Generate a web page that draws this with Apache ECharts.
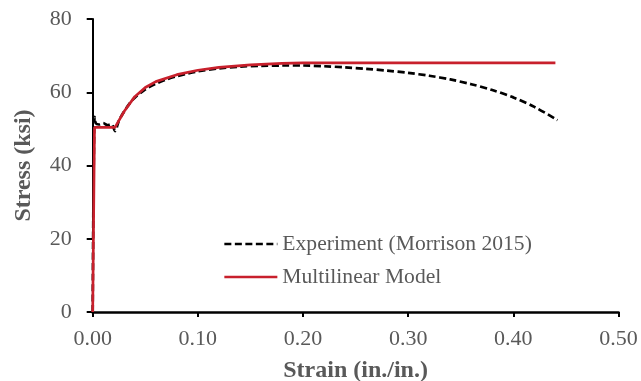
<!DOCTYPE html>
<html>
<head>
<meta charset="utf-8">
<script src="https://cdn.jsdelivr.net/npm/echarts@6/dist/echarts.min.js"></script>
<style>html,body{margin:0;padding:0;background:#fff}#c{width:641px;height:381px}</style>
</head>
<body>
<div id="c"></div>
<script>
// Experiment (Morrison 2015): [strain, stress]
var expStrain = [0, 0.0018, 0.003, 0.006, 0.010, 0.014, 0.018, 0.0212, 0.025, 0.030, 0.035, 0.040, 0.050, 0.060, 0.070, 0.080, 0.090, 0.100, 0.120, 0.140, 0.160, 0.180, 0.200, 0.220, 0.240, 0.260, 0.280, 0.300, 0.320, 0.340, 0.360, 0.380, 0.400, 0.420, 0.442];
var expStress = [0, 53.3, 51.5, 51.2, 51.6, 51.0, 51.3, 49.4, 52.3, 54.8, 56.9, 58.5, 60.8, 62.3, 63.5, 64.4, 65.1, 65.7, 66.5, 67.0, 67.2, 67.3, 67.3, 67.1, 66.8, 66.4, 65.9, 65.3, 64.5, 63.5, 62.2, 60.6, 58.6, 56.0, 52.4];
// Multilinear Model
var modStrain = [0, 0.0017, 0.0212, 0.030, 0.040, 0.050, 0.060, 0.080, 0.100, 0.120, 0.150, 0.180, 0.200, 0.440];
var modStress = [0, 50.4, 50.4, 54.8, 58.8, 61.3, 62.9, 64.8, 66.0, 66.8, 67.5, 67.9, 68.0, 68.0];
var xTicks = ['0.00', '0.10', '0.20', '0.30', '0.40', '0.50'];
var yTicks = ['0', '20', '40', '60', '80'];

function pairs(xs, ys) { return xs.map(function (x, i) { return [x, ys[i]]; }); }

var font = '"Liberation Serif", "Times New Roman", serif';
var chart = echarts.init(document.getElementById('c'), null, { renderer: 'canvas' });
chart.setOption({
  animation: false,
  backgroundColor: '#fff',
  grid: { left: 92.7, right: 22.5, top: 19, bottom: 69, containLabel: false, outerBoundsMode: 'none' },
  legend: {
    orient: 'vertical',
    left: 218, top: 228,
    itemWidth: 53, itemHeight: 22, itemGap: 11,
    itemStyle: { opacity: 0 },
    lineStyle: { width: 2.7 },
    textStyle: { fontFamily: font, fontSize: 21.6, color: '#595959' },
    data: ['Experiment (Morrison 2015)', 'Multilinear Model']
  },
  xAxis: {
    type: 'value', min: 0, max: 0.5, interval: 0.1,
    name: 'Strain (in./in.)', nameLocation: 'middle', nameGap: 47,
    nameTextStyle: { fontFamily: font, fontSize: 24, fontWeight: 'bold', color: '#595959' },
    axisLine: { show: true, onZero: false, lineStyle: { color: '#000', width: 2.7 } },
    axisTick: { show: true, inside: false, length: 5, lineStyle: { color: '#000', width: 2 } },
    axisLabel: { margin: 16, fontFamily: font, fontSize: 22, color: '#595959',
      formatter: function (v) { return xTicks[Math.round(v * 10)]; } },
    splitLine: { show: false }
  },
  yAxis: {
    type: 'value', min: 0, max: 80, interval: 20,
    name: 'Stress (ksi)', nameLocation: 'middle', nameGap: 57, nameRotate: 90,
    nameTextStyle: { fontFamily: font, fontSize: 24, fontWeight: 'bold', color: '#595959' },
    axisLine: { show: true, lineStyle: { color: '#000', width: 2 } },
    axisTick: { show: true, inside: false, length: 6, lineStyle: { color: '#000', width: 2 } },
    axisLabel: { margin: 21, fontFamily: font, fontSize: 22, color: '#595959',
      formatter: function (v) { return yTicks[Math.round(v / 20)]; } },
    splitLine: { show: false }
  },
  series: [
    {
      name: 'Experiment (Morrison 2015)', type: 'line', data: pairs(expStrain, expStress),
      smooth: 0.3, showSymbol: false, symbol: 'none', z: 2,
      lineStyle: { color: '#000', width: 2.7, type: [7, 3.5] },
      itemStyle: { color: '#000' }
    },
    {
      name: 'Multilinear Model', type: 'line', data: pairs(modStrain, modStress),
      smooth: false, showSymbol: false, symbol: 'none', z: 3,
      lineStyle: { color: '#C8202C', width: 2.7 },
      itemStyle: { color: '#C8202C' }
    }
  ]
});
</script>
</body>
</html>
